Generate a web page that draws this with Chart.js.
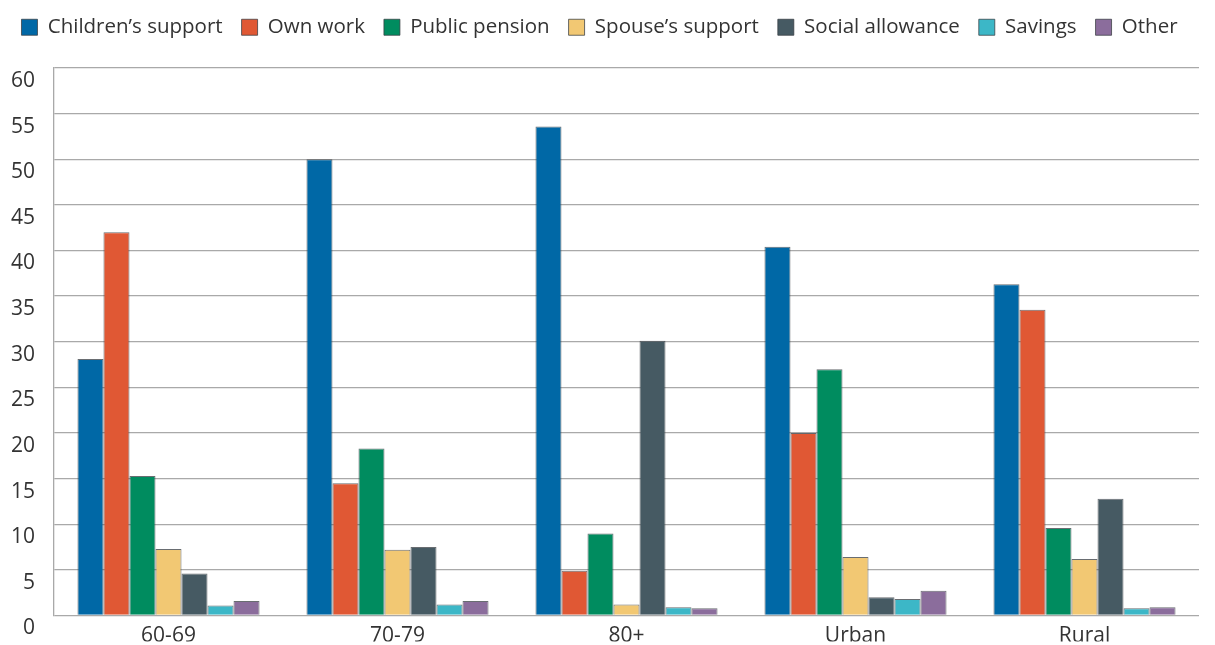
<!DOCTYPE html>
<html>
<head>
<meta charset="utf-8">
<script src="https://cdn.jsdelivr.net/npm/chart.js@4"></script>
<style>
  html, body { margin: 0; padding: 0; background: #fff; }
  #wrap { width: 1215px; height: 645px; }
</style>
</head>
<body>
<div id="wrap"><canvas id="chart_Support"></canvas></div>
<script>
// categories + series
const groups = ['60-69', '70-79', '80+', 'Urban', 'Rural'];
const childrenSupport = [28.1, 50.0, 53.6, 40.4, 36.3];
const ownWork = [42.0, 14.5, 4.9, 20.0, 33.5];
const publicPension = [15.3, 18.3, 9.0, 27.0, 9.6];
const spouseSupport = [7.3, 7.2, 1.2, 6.4, 6.2];
const socialAllowance = [4.6, 7.5, 30.1, 2.0, 12.8];
const savings = [1.1, 1.2, 0.9, 1.8, 0.8];
const other = [1.6, 1.6, 0.8, 2.7, 0.9];
const yTicks = [0, 5, 10, 15, 20, 25, 30, 35, 40, 45, 50, 55, 60];

function series(label, data, color) {
  return {
    label: label,
    data: data,
    backgroundColor: color,
    borderColor: 'rgba(55, 60, 65, 0.75)',
    borderWidth: 1,
    borderSkipped: 'bottom'
  };
}

// make the legend box taller so the plot starts lower
const legendSpace = {
  id: 'legendSpace',
  beforeInit(chart) {
    const origFit = chart.legend.fit;
    chart.legend.fit = function () {
      origFit.bind(chart.legend)();
      this.height = 70;
    };
  }
};

const ctx = document.getElementById('chart_Support');

new Chart(ctx, {
  type: 'bar',
  data: {
    labels: groups,
    datasets: [
      series('Children\u2019s support', childrenSupport, '#0068a6'),
      series('Own work', ownWork, '#e05834'),
      series('Public pension', publicPension, '#008c5f'),
      series('Spouse\u2019s support', spouseSupport, '#f2c873'),
      series('Social allowance', socialAllowance, '#465a63'),
      series('Savings', savings, '#3cb7c7'),
      series('Other', other, '#8b6d9c')
    ]
  },
  plugins: [legendSpace],
  options: {
    responsive: true,
    maintainAspectRatio: false,
    animation: false,
    layout: {
      padding: { left: 0, right: 16, top: -2, bottom: 0 }
    },
    datasets: {
      bar: {
        barPercentage: 1,
        categoryPercentage: 0.795
      }
    },
    scales: {
      x: {
        grid: { display: false, drawTicks: false },
        border: { display: false },
        afterFit: function (scale) { scale.height = 26; },
        ticks: {
          color: '#333',
          padding: 10,
          font: { family: 'Open Sans', size: 21, lineHeight: 1.0 }
        }
      },
      y: {
        min: 0,
        max: 60,
        afterBuildTicks: function (axis) {
          axis.ticks = yTicks.map(v => ({ value: v }));
        },
        afterFit: function (scale) { scale.width = 54; },
        grid: {
          color: '#a9a9a9',
          lineWidth: 1.3,
          drawTicks: false
        },
        border: { display: true, color: '#a9a9a9', width: 1.3 },
        ticks: {
          color: '#333',
          padding: 19,
          autoSkip: false,
          // labels sit just under their gridline in the reference
          labelOffset: 13,
          font: { family: 'Open Sans', size: 21, lineHeight: 1.0 }
        }
      }
    },
    plugins: {
      tooltip: { enabled: false },
      legend: {
        display: true,
        position: 'top',
        align: 'center',
        labels: {
          color: '#333',
          boxWidth: 16,
          boxHeight: 16,
          padding: 19,
          font: { family: 'Open Sans', size: 20.5 }
        }
      }
    }
  }
});
</script>
</body>
</html>
